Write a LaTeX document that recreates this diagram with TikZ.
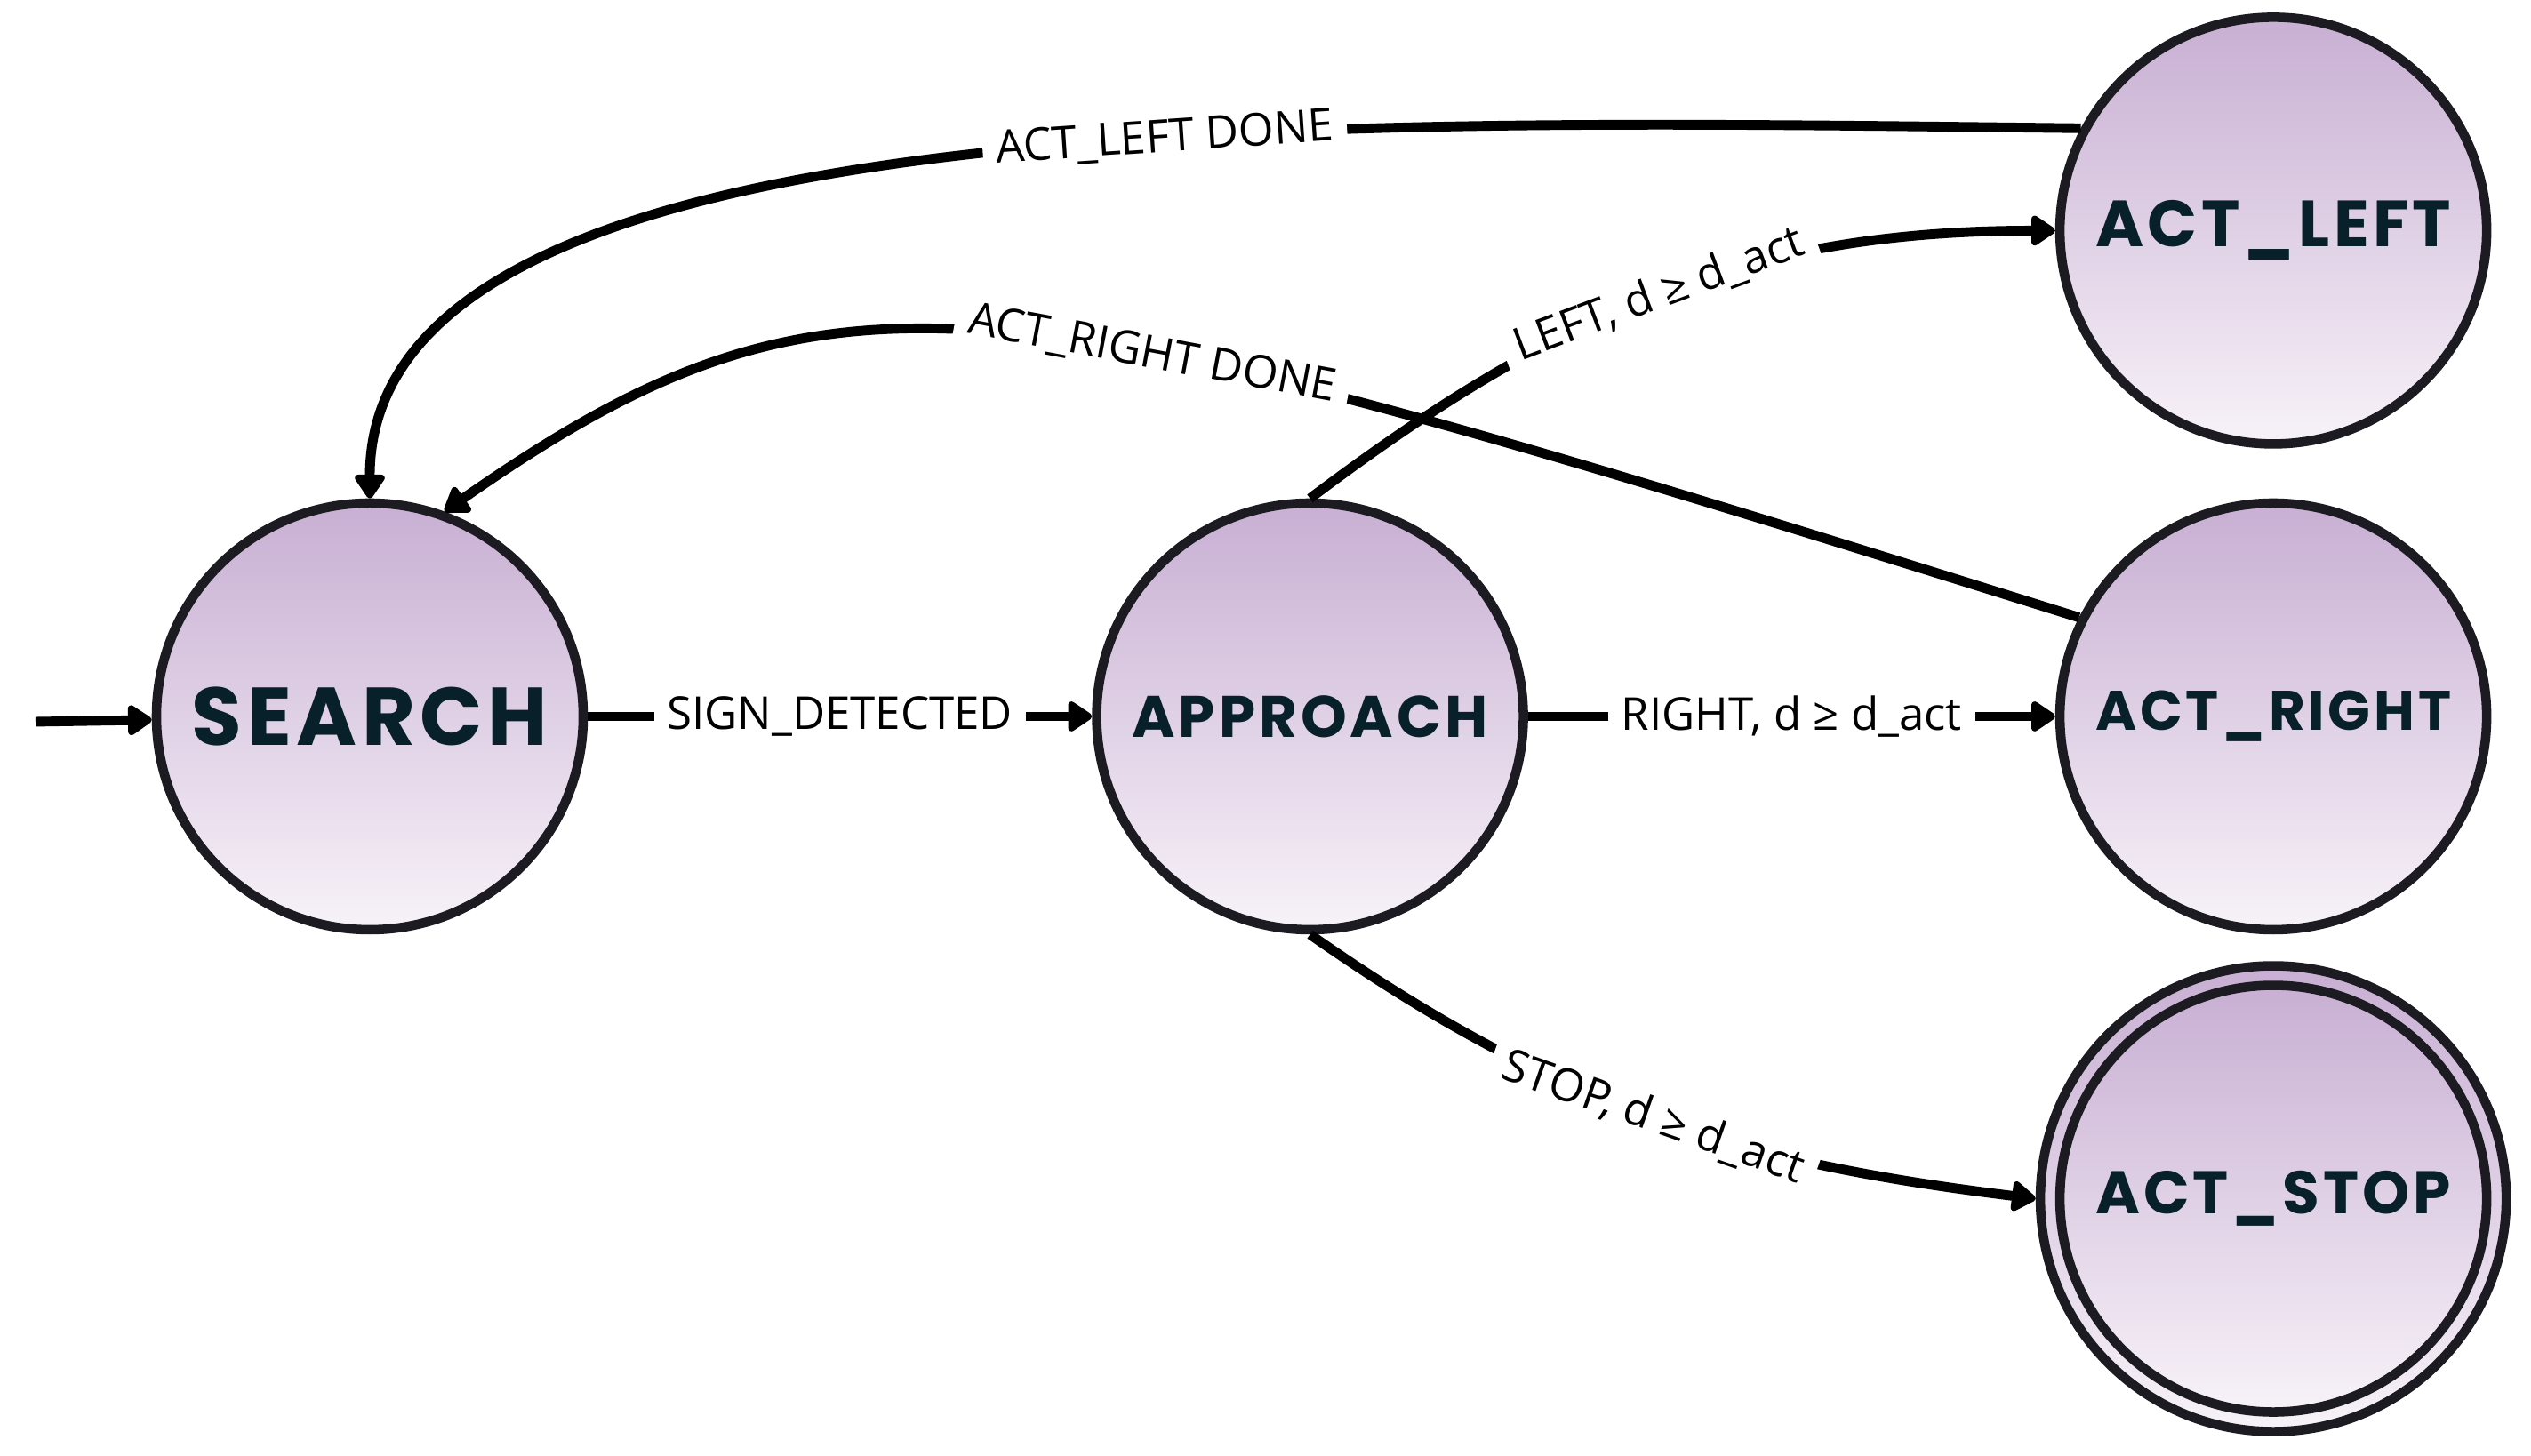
\documentclass[tikz,border=0pt]{standalone}
\usepackage{fontspec}
\usetikzlibrary{arrows.meta,positioning}
\newfontfamily\statefont{Poppins}[LetterSpace=6]
\newfontfamily\guardfont{Open Sans}
\definecolor{Ink}{HTML}{07202A}
\definecolor{Rim}{HTML}{1C1B22}
\definecolor{LilacTop}{HTML}{C8AFD3}
\definecolor{LilacBottom}{HTML}{F7F2F8}
\newcommand{\statename}[1]{\resizebox{4cm}{!}{\statefont\bfseries #1}}

\begin{document}
\begin{tikzpicture}[>={Triangle[length=0.3cm,width=0.38cm,round]},
    state/.style={circle, draw=Rim, line width=3pt, minimum size=4.8cm, inner sep=0pt,
      top color=LilacTop, bottom color=LilacBottom, text=Ink},
    trans/.style={->, line width=3.1pt},
    guard/.style={fill=white, font=\guardfont\fontsize{14.5}{17}\selectfont,
      inner xsep=0.15cm, inner ysep=0.04cm}]
    \useasboundingbox (0,0) rectangle (28.47,16.38);
    \node[state] (search) at (4.16,8.32) {\statename{SEARCH}};
    \node[state, right=5.67cm of search] (approach) {\statename{APPROACH}};
    \node[state, right=5.93cm of approach] (actright) {\statename{ACT\_RIGHT}};
    \node[state, above=0.56cm of actright] (actleft) {\statename{ACT\_LEFT}};
    \node[state, minimum size=5.24cm, below=0.30cm of actright] (stopring) {};
    \node[state] (stop) at (stopring) {\statename{ACT\_STOP}};
    \coordinate (start) at (0.40,8.26);
    \draw[trans] (start) -- (search);
    \draw[trans] (search) -- node[guard] {SIGN\_DETECTED} (approach);
    \draw[trans] (approach) -- node[guard] {RIGHT, d ≥ d\_act} (actright);
    \draw[trans] (approach.north) to[out=37, in=180] node[guard, sloped] {LEFT, d ≥ d\_act} (actleft.west);
    \draw[trans] (approach.south) to[out=-35, in=173] node[guard, sloped] {STOP, d ≥ d\_act} (stopring.west);
    % done transitions back to search
    \draw[trans] (actleft.152) .. controls +(-8.17,0.09) and +(0,4.54) .. node[guard, sloped, pos=0.4] {ACT\_LEFT DONE} (search.north);
    \draw[trans] (actright.153) .. controls +(-12.13,3.79) and +(4.47,3.12) .. node[guard, sloped, pos=0.4] {ACT\_RIGHT DONE} (search.70);
  \end{tikzpicture}
\end{document}
